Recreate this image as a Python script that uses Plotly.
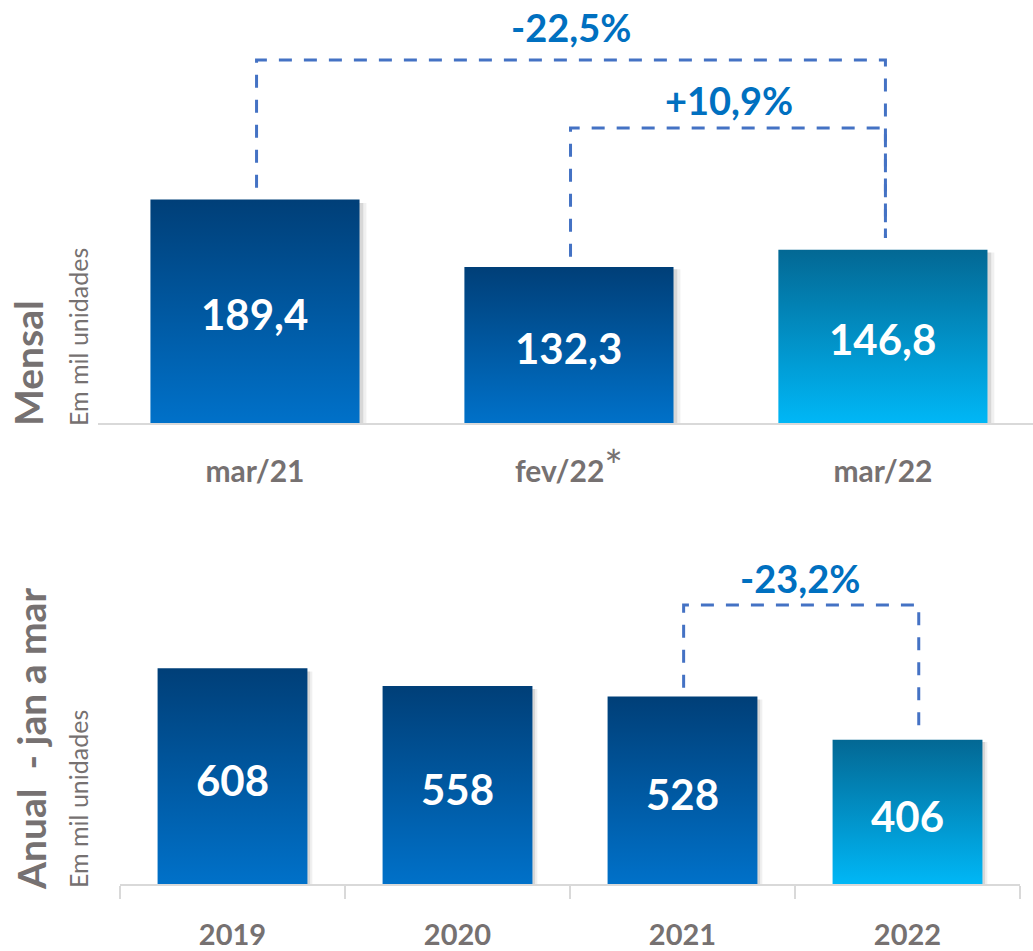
import plotly.graph_objects as go

# monthly sales, thousand units
month_labels = ["mar/21", "fev/22", "mar/22"]
month_footnotes = ["", "*", ""]
month_values = [189.4, 132.3, 146.8]
month_value_text = ["189,4", "132,3", "146,8"]
month_changes = ["-22,5%", "+10,9%"]

# jan-mar totals, thousand units
year_labels = ["2019", "2020", "2021", "2022"]
year_values = [608, 558, 528, 406]
year_value_text = ["608", "558", "528", "406"]
year_changes = ["-23,2%"]

DARK = [[0, "#0071C9"], [1, "#003F78"]]
LIGHT = [[0, "#00B7F6"], [1, "#036894"]]
GREY = "#767171"
BLUE_TXT = "#0070C0"
DASH = "#4472C4"
AXIS = "#D9D9D9"
FONT = "Lato"
HALF = 0.333

fig = go.Figure()


def add_bars(values, ax, ay):
    for i, v in enumerate(values):
        l, r = i - HALF, i + HALF
        # soft shadow on the right
        for off, alpha in [(0.022, 0.06), (0.012, 0.10)]:
            fig.add_trace(go.Scatter(
                x=[l + off, l + off, r + off, r + off, l + off],
                y=[0, v * 0.985, v * 0.985, 0, 0],
                fill="toself", fillcolor=f"rgba(0,0,0,{alpha})",
                line=dict(width=0), mode="lines", hoverinfo="skip",
                showlegend=False, xaxis=ax, yaxis=ay))
        scale = LIGHT if i == len(values) - 1 else DARK
        fig.add_trace(go.Scatter(
            x=[l, l, r, r, l], y=[0, v, v, 0, 0],
            fill="toself",
            fillgradient=dict(type="vertical", colorscale=scale, start=0, stop=v),
            line=dict(width=0), mode="lines", hoverinfo="skip",
            showlegend=False, xaxis=ax, yaxis=ay))


add_bars(month_values, "x", "y")
add_bars(year_values, "x2", "y2")

# values inside the bars
for i, (v, t) in enumerate(zip(month_values, month_value_text)):
    fig.add_annotation(x=i, y=v / 2, xref="x", yref="y", text=f"<b>{t}</b>",
                       showarrow=False, yshift=-3,
                       font=dict(family=FONT, size=42, color="white"))
for i, (v, t) in enumerate(zip(year_values, year_value_text)):
    fig.add_annotation(x=i, y=v / 2, xref="x2", yref="y2", text=f"<b>{t}</b>",
                       showarrow=False, yshift=-4,
                       font=dict(family=FONT, size=42, color="white"))


def bracket(xa, ya, xb, yb, top, xref, yref):
    fig.add_shape(type="path", xref=xref, yref=yref,
                  path=f"M {xa},{ya} V {top} H {xb} V {yb}",
                  line=dict(color=DASH, width=3, dash="13px,12px"))


# monthly comparisons
bracket(0.005, month_values[0] + 10, 2.008, month_values[2] + 10, 307.6, "x", "y")
bracket(1.005, month_values[1] + 8.5, 2.008, month_values[2] + 10, 250, "x", "y")
fig.add_annotation(x=1.008, y=335.6, xref="x", yref="y", text=f"<b>{month_changes[0]}</b>",
                   showarrow=False, font=dict(family=FONT, size=38, color=BLUE_TXT))
fig.add_annotation(x=1.511, y=273.7, xref="x", yref="y", text=f"<b>{month_changes[1]}</b>",
                   showarrow=False, font=dict(family=FONT, size=38, color=BLUE_TXT))

# yearly comparison
bracket(2.005, year_values[2] + 25, 3.05, year_values[3] + 20, 786, "x2", "y2")
fig.add_annotation(x=2.52, y=862, xref="x2", yref="y2", text=f"<b>{year_changes[0]}</b>",
                   showarrow=False, font=dict(family=FONT, size=38, color=BLUE_TXT))

# side titles
for yref, big, bx, sx, bs, ss in [("y", "Mensal", 28, 78, -5, -5),
                                  ("y2", "Anual\u00a0\u00a0- jan a mar", 31, 78, -8, -6)]:
    fig.add_annotation(x=bx / 1033, y=0, xref="paper", yref=yref, text=f"<b>{big}</b>",
                       textangle=-90, showarrow=False, xanchor="center", yanchor="bottom",
                       yshift=bs, font=dict(family=FONT, size=39, color=GREY))
    fig.add_annotation(x=sx / 1033, y=0, xref="paper", yref=yref, text="Em mil unidades",
                       textangle=-90, showarrow=False, xanchor="center", yanchor="bottom",
                       yshift=ss, font=dict(family=FONT, size=25, color=GREY))

month_ticktext = [
    f"<b>{t}</b>" + (f"<span style='font-size:44px;font-weight:normal'>{n}</span>" if n else "")
    for t, n in zip(month_labels, month_footnotes)
]

fig.update_layout(
    width=1033, height=951,
    margin=dict(l=0, r=0, t=0, b=0, autoexpand=False),
    paper_bgcolor="white", plot_bgcolor="white",
    showlegend=False,
    xaxis=dict(domain=[98 / 1033, 1], range=[-0.5, 2.478], automargin=False,
               tickmode="array", tickvals=list(range(len(month_labels))),
               ticktext=month_ticktext,
               tickfont=dict(family=FONT, size=30, color=GREY),
               ticks="", ticklabelstandoff=21,
               showline=True, linecolor=AXIS, linewidth=2,
               showgrid=False, zeroline=False, fixedrange=True),
    yaxis=dict(domain=[(951 - 423) / 951, 1], range=[0, 358.5], automargin=False,
               visible=False, fixedrange=True),
    xaxis2=dict(domain=[120 / 1033, 1020 / 1033], range=[-0.5, 3.5],
                anchor="y2", automargin=False,
                tickmode="array", tickvals=list(range(len(year_labels))),
                ticktext=[f"<b>{t}</b>" for t in year_labels],
                tickfont=dict(family=FONT, size=29, color=GREY),
                ticks="", ticklabelstandoff=24,
                minor=dict(tickmode="array", tickvals=[i - 0.5 for i in range(len(year_labels) + 1)],
                           ticks="outside", ticklen=13, tickwidth=2, tickcolor=AXIS,
                           showgrid=False),
                showline=True, linecolor=AXIS, linewidth=2,
                showgrid=False, zeroline=False, fixedrange=True),
    yaxis2=dict(domain=[(951 - 884) / 951, (951 - 560) / 951], range=[0, 912.7],
                anchor="x2", automargin=False, visible=False, fixedrange=True),
)

fig.write_html("out.html", post_script="document.body.style.margin='0';",
               config={"displayModeBar": False})
